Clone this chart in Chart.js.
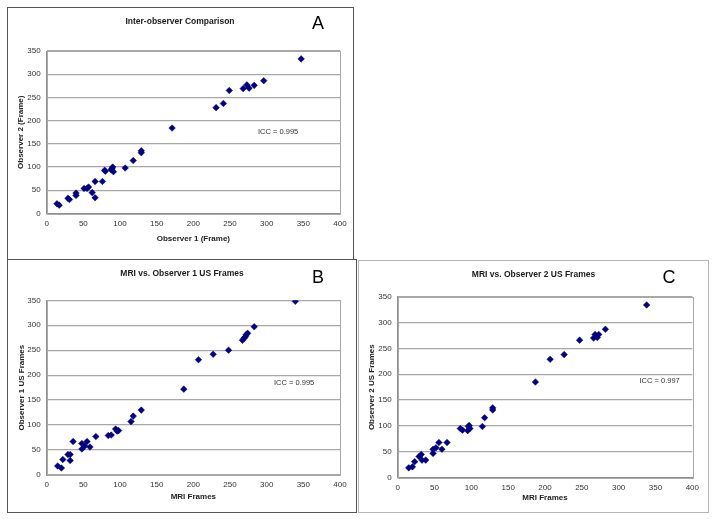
<!DOCTYPE html>
<html>
<head>
<meta charset="utf-8">
<script src="https://cdn.jsdelivr.net/npm/chart.js@4"></script>
<style>
  html, body { margin: 0; padding: 0; background: #ffffff; }
  body { width: 714px; height: 519px; position: relative; overflow: hidden; }
  .frame { position: absolute; box-sizing: border-box; }
  canvas { position: absolute; }
</style>
</head>
<body>
<div class="frame" style="left:7px;top:7px;width:347px;height:253px;border:1px solid #555;"></div>
<div class="frame" style="left:7px;top:259px;width:350px;height:254px;border:1px solid #555;"></div>
<div class="frame" style="left:358px;top:260px;width:351px;height:253px;border:1px solid #b5b5b5;"></div>
<canvas id="cA" width="344" height="250" style="left:8px;top:8px;"></canvas>
<canvas id="cB" width="347" height="251" style="left:8px;top:260px;"></canvas>
<canvas id="cC" width="348" height="250" style="left:359px;top:261px;"></canvas>
<script>
// ---- data ----
const xTicks = [0, 50, 100, 150, 200, 250, 300, 350, 400];
const yTicks = [0, 50, 100, 150, 200, 250, 300, 350];

// Panel A: Inter-observer comparison
const aObserver1 = [14,17,29,31,40,40,51,55,57,62,66,66,76,79,80,88,90,91,89,107,118,129,129,171,231,241,249,268,273,276,283,296,347];
const aObserver2 = [21,18,33,30,44,39,54,54,57,45,34,69,69,93,91,94,100,90,97,98,114,135,131,184,228,237,265,269,277,270,276,286,333];

// Panel B: MRI vs. Observer 1
const bMri       = [15,20,22,29,32,32,36,48,48,52,55,59,67,84,88,94,96,98,115,118,129,187,207,227,248,267,269,271,272,274,283,339];
const bObserver1 = [18,14,31,41,41,29,67,63,52,58,67,56,77,79,80,92,88,89,107,118,130,172,231,242,250,270,274,277,281,284,297,348];

// Panel C: MRI vs. Observer 2
const cMri       = [15,20,23,29,32,33,38,48,48,52,56,60,67,85,88,95,96,98,97,115,118,129,129,187,207,226,247,266,268,271,273,282,338];
const cObserver2 = [19,21,31,41,45,34,34,47,55,58,68,55,68,95,92,91,99,95,101,99,116,135,131,185,229,238,266,270,277,271,277,287,334];

const titles = ['Inter-observer Comparison', 'MRI vs. Observer 1 US Frames', 'MRI vs. Observer 2 US Frames'];
const letters = ['A', 'B', 'C'];
const iccLabels = ['ICC = 0.995', 'ICC = 0.995', 'ICC = 0.997'];
const xTitles = ['Observer 1 (Frame)', 'MRI Frames', 'MRI Frames'];
const yTitles = ['Observer 2 (Frame)', 'Observer 1 US Frames', 'Observer 2 US Frames'];

Chart.defaults.font.family = '"Liberation Sans", Arial, sans-serif';
Chart.defaults.color = '#333';

const GRID = '#a8a8a8';

function pts(xs, ys) { return xs.map((x, i) => ({ x: x, y: ys[i] })); }

const textPlugin = {
  id: 'panelText',
  beforeDatasetsDraw(chart, args, o) {
    const ctx = chart.ctx, a = chart.chartArea;
    ctx.save();
    ctx.strokeStyle = GRID;
    ctx.lineWidth = 1;
    ctx.strokeRect(Math.round(a.left) + 0.5, Math.round(a.top) + 0.5, Math.round(a.right - a.left), Math.round(a.bottom - a.top));
    ctx.restore();
  },
  afterDraw(chart, args, o) {
    const ctx = chart.ctx;
    ctx.save();
    ctx.textBaseline = 'middle';
    ctx.fillStyle = '#1a1a1a';
    ctx.textAlign = 'center';
    ctx.font = 'bold 8.5px "Liberation Sans", Arial, sans-serif';
    ctx.fillText(o.title, o.titleX, o.titleY);
    ctx.font = '18px "Liberation Sans", Arial, sans-serif';
    ctx.fillStyle = '#000';
    ctx.fillText(o.letter, o.letterX, o.letterY);
    ctx.textAlign = 'left';
    ctx.font = '7.5px "Liberation Sans", Arial, sans-serif';
    ctx.fillStyle = '#333';
    ctx.fillText(o.icc, o.iccX, o.iccY);
    ctx.restore();
  }
};

function makeChart(id, idx, xs, ys, g) {
  const el = document.getElementById(id);
  const W = el.width, H = el.height;
  new Chart(el, {
    type: 'scatter',
    data: { datasets: [{
      data: pts(xs, ys),
      pointStyle: 'rectRot',
      pointRadius: 3.3,
      pointBackgroundColor: '#000080',
      pointBorderColor: '#000080',
      pointBorderWidth: 0.5
    }]},
    plugins: [textPlugin],
    options: {
      responsive: false,
      animation: false,
      events: [],
      layout: { padding: { left: 0, top: g.top, right: W - g.right, bottom: 0 } },
      plugins: {
        legend: { display: false },
        tooltip: { enabled: false },
        panelText: {
          title: titles[idx], titleX: g.titleX, titleY: g.titleY,
          letter: letters[idx], letterX: g.letterX, letterY: g.letterY,
          icc: iccLabels[idx], iccX: g.iccX, iccY: g.iccY
        }
      },
      scales: {
        x: {
          type: 'linear',
          min: xTicks[0], max: xTicks[xTicks.length - 1],
          afterBuildTicks: s => { s.ticks = xTicks.map(v => ({ value: v })); },
          afterFit: s => { s.height = H - g.bottom; },
          grid: { display: false, drawTicks: false },
          border: { display: true, color: '#909090', width: 1 },
          ticks: { font: { size: 8 }, padding: 5, color: '#333', maxRotation: 0 },
          title: { display: true, text: xTitles[idx], font: { size: 8, weight: 'bold' }, color: '#222',
                   padding: { top: 0, bottom: g.xTitlePad } }
        },
        y: {
          type: 'linear',
          min: yTicks[0], max: yTicks[yTicks.length - 1],
          afterBuildTicks: s => { s.ticks = yTicks.map(v => ({ value: v })); },
          afterFit: s => { s.width = g.left; },
          grid: { display: true, color: GRID, lineWidth: 1.3, drawTicks: false },
          border: { display: true, color: '#909090', width: 1 },
          ticks: { font: { size: 8 }, padding: 6, color: '#333' },
          title: { display: true, text: yTitles[idx], font: { size: 8, weight: 'bold' }, color: '#222',
                   padding: { top: g.yTitlePad, bottom: 0 } }
        }
      }
    }
  });
}

// geometry (canvas-relative)
makeChart('cA', 0, aObserver1, aObserver2, {
  left: 38.7, right: 332, top: 43, bottom: 205.5,
  xTitlePad: 14.2, yTitlePad: 8.2,
  titleX: 172, titleY: 14, letterX: 310, letterY: 16, iccX: 250, iccY: 124
});
makeChart('cB', 1, bMri, bObserver1, {
  left: 38.7, right: 332, top: 40.3, bottom: 215,
  xTitlePad: 9.2, yTitlePad: 9.2,
  titleX: 174, titleY: 14, letterX: 310, letterY: 18, iccX: 266, iccY: 122.5
});
makeChart('cC', 2, cMri, cObserver2, {
  left: 38.7, right: 333.3, top: 35.7, bottom: 216.7,
  xTitlePad: 8.2, yTitlePad: 8.2,
  titleX: 174.5, titleY: 13.3, letterX: 310, letterY: 16.7, iccX: 280.5, iccY: 120
});
</script>
</body>
</html>
